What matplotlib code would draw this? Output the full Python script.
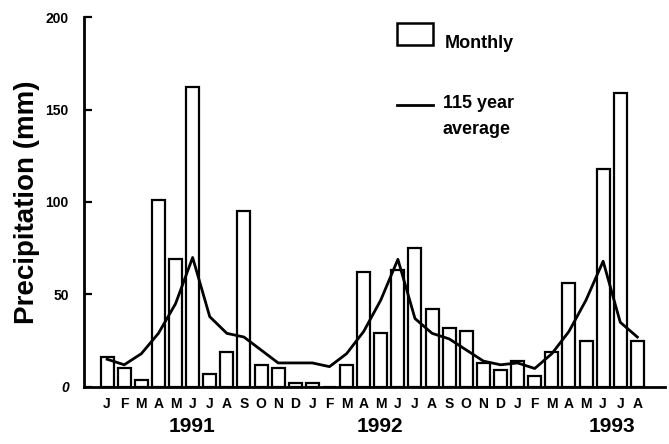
import matplotlib
matplotlib.use('Agg')
from matplotlib import pyplot as plt
from matplotlib.patches import Rectangle
from matplotlib.lines import Line2D

plt.rcParams['font.family'] = ['Liberation Sans', 'DejaVu Sans']
plt.rcParams['font.weight'] = 'bold'

month_letters = ['J', 'F', 'M', 'A', 'M', 'J', 'J', 'A', 'S', 'O', 'N', 'D',
                 'J', 'F', 'M', 'A', 'M', 'J', 'J', 'A', 'S', 'O', 'N', 'D',
                 'J', 'F', 'M', 'A', 'M', 'J', 'J', 'A']
years = ['1991', '1992', '1993']

monthly = [16, 10, 4, 101, 69, 162, 7, 19, 95, 12, 10, 2,
           2, 0, 12, 62, 29, 63, 75, 42, 32, 30, 13, 9,
           14, 6, 19, 56, 25, 118, 159, 25]

average = [15, 12, 18, 29, 45, 70, 38, 29, 27, 20, 13, 13,
           13, 11, 18, 30, 47, 69, 37, 29, 26, 20, 14, 12,
           13, 10, 18, 30, 47, 68, 35, 27]


def main():
    fig = plt.figure(figsize=(6.69, 4.44), dpi=100)
    ax = fig.add_axes([0.1256, 0.1284, 0.868, 0.8333])

    x = list(range(len(monthly)))
    ax.bar(x, monthly, width=0.76, color='white', edgecolor='black',
           linewidth=1.6, zorder=2)
    ax.plot(x, average, color='black', linewidth=2, zorder=3)

    ax.set_xlim(-1.35, 32.6)
    ax.set_ylim(0, 200)
    ax.set_yticks([0, 50, 100, 150, 200])
    ax.tick_params(axis='y', direction='in', length=6, width=1.6,
                   labelsize=10, pad=11)
    for lab in ax.get_yticklabels():
        lab.set_fontweight('bold')
    ax.get_yticklabels()[0].set_fontstyle('italic')
    ax.set_xticks(x)
    ax.set_xticklabels(month_letters, fontsize=10, fontweight='bold')
    ax.tick_params(axis='x', length=0, pad=7)

    for side in ['top', 'right']:
        ax.spines[side].set_visible(False)
    ax.spines['left'].set_linewidth(2)
    ax.spines['bottom'].set_linewidth(2)

    ax.set_ylabel('Precipitation (mm)', fontsize=20, fontweight='bold',
                  labelpad=4)

    # year labels under the month letters
    for yr, xpos in zip(years, [4.97, 15.96, 29.5]):
        ax.text(xpos, -24.5, yr, ha='center', va='baseline', fontsize=15,
                fontweight='bold', clip_on=False)

    # hand placed legend
    fig.patches.append(Rectangle((397 / 669, 1 - 45 / 444), 36 / 669,
                                 22 / 444, transform=fig.transFigure,
                                 facecolor='white', edgecolor='black',
                                 linewidth=1.8))
    fig.text(445 / 669, 1 - 48 / 444, 'Monthly', fontsize=13,
             fontweight='bold', va='baseline')
    fig.lines.append(Line2D([397 / 669, 433 / 669],
                            [1 - 105 / 444, 1 - 105 / 444],
                            transform=fig.transFigure, color='black',
                            linewidth=2))
    fig.text(443 / 669, 1 - 108 / 444, '115 year', fontsize=13,
             fontweight='bold', va='baseline')
    fig.text(443 / 669, 1 - 134 / 444, 'average', fontsize=13,
             fontweight='bold', va='baseline')

    fig.savefig('out.png', dpi=100)


if __name__ == '__main__':
    main()
